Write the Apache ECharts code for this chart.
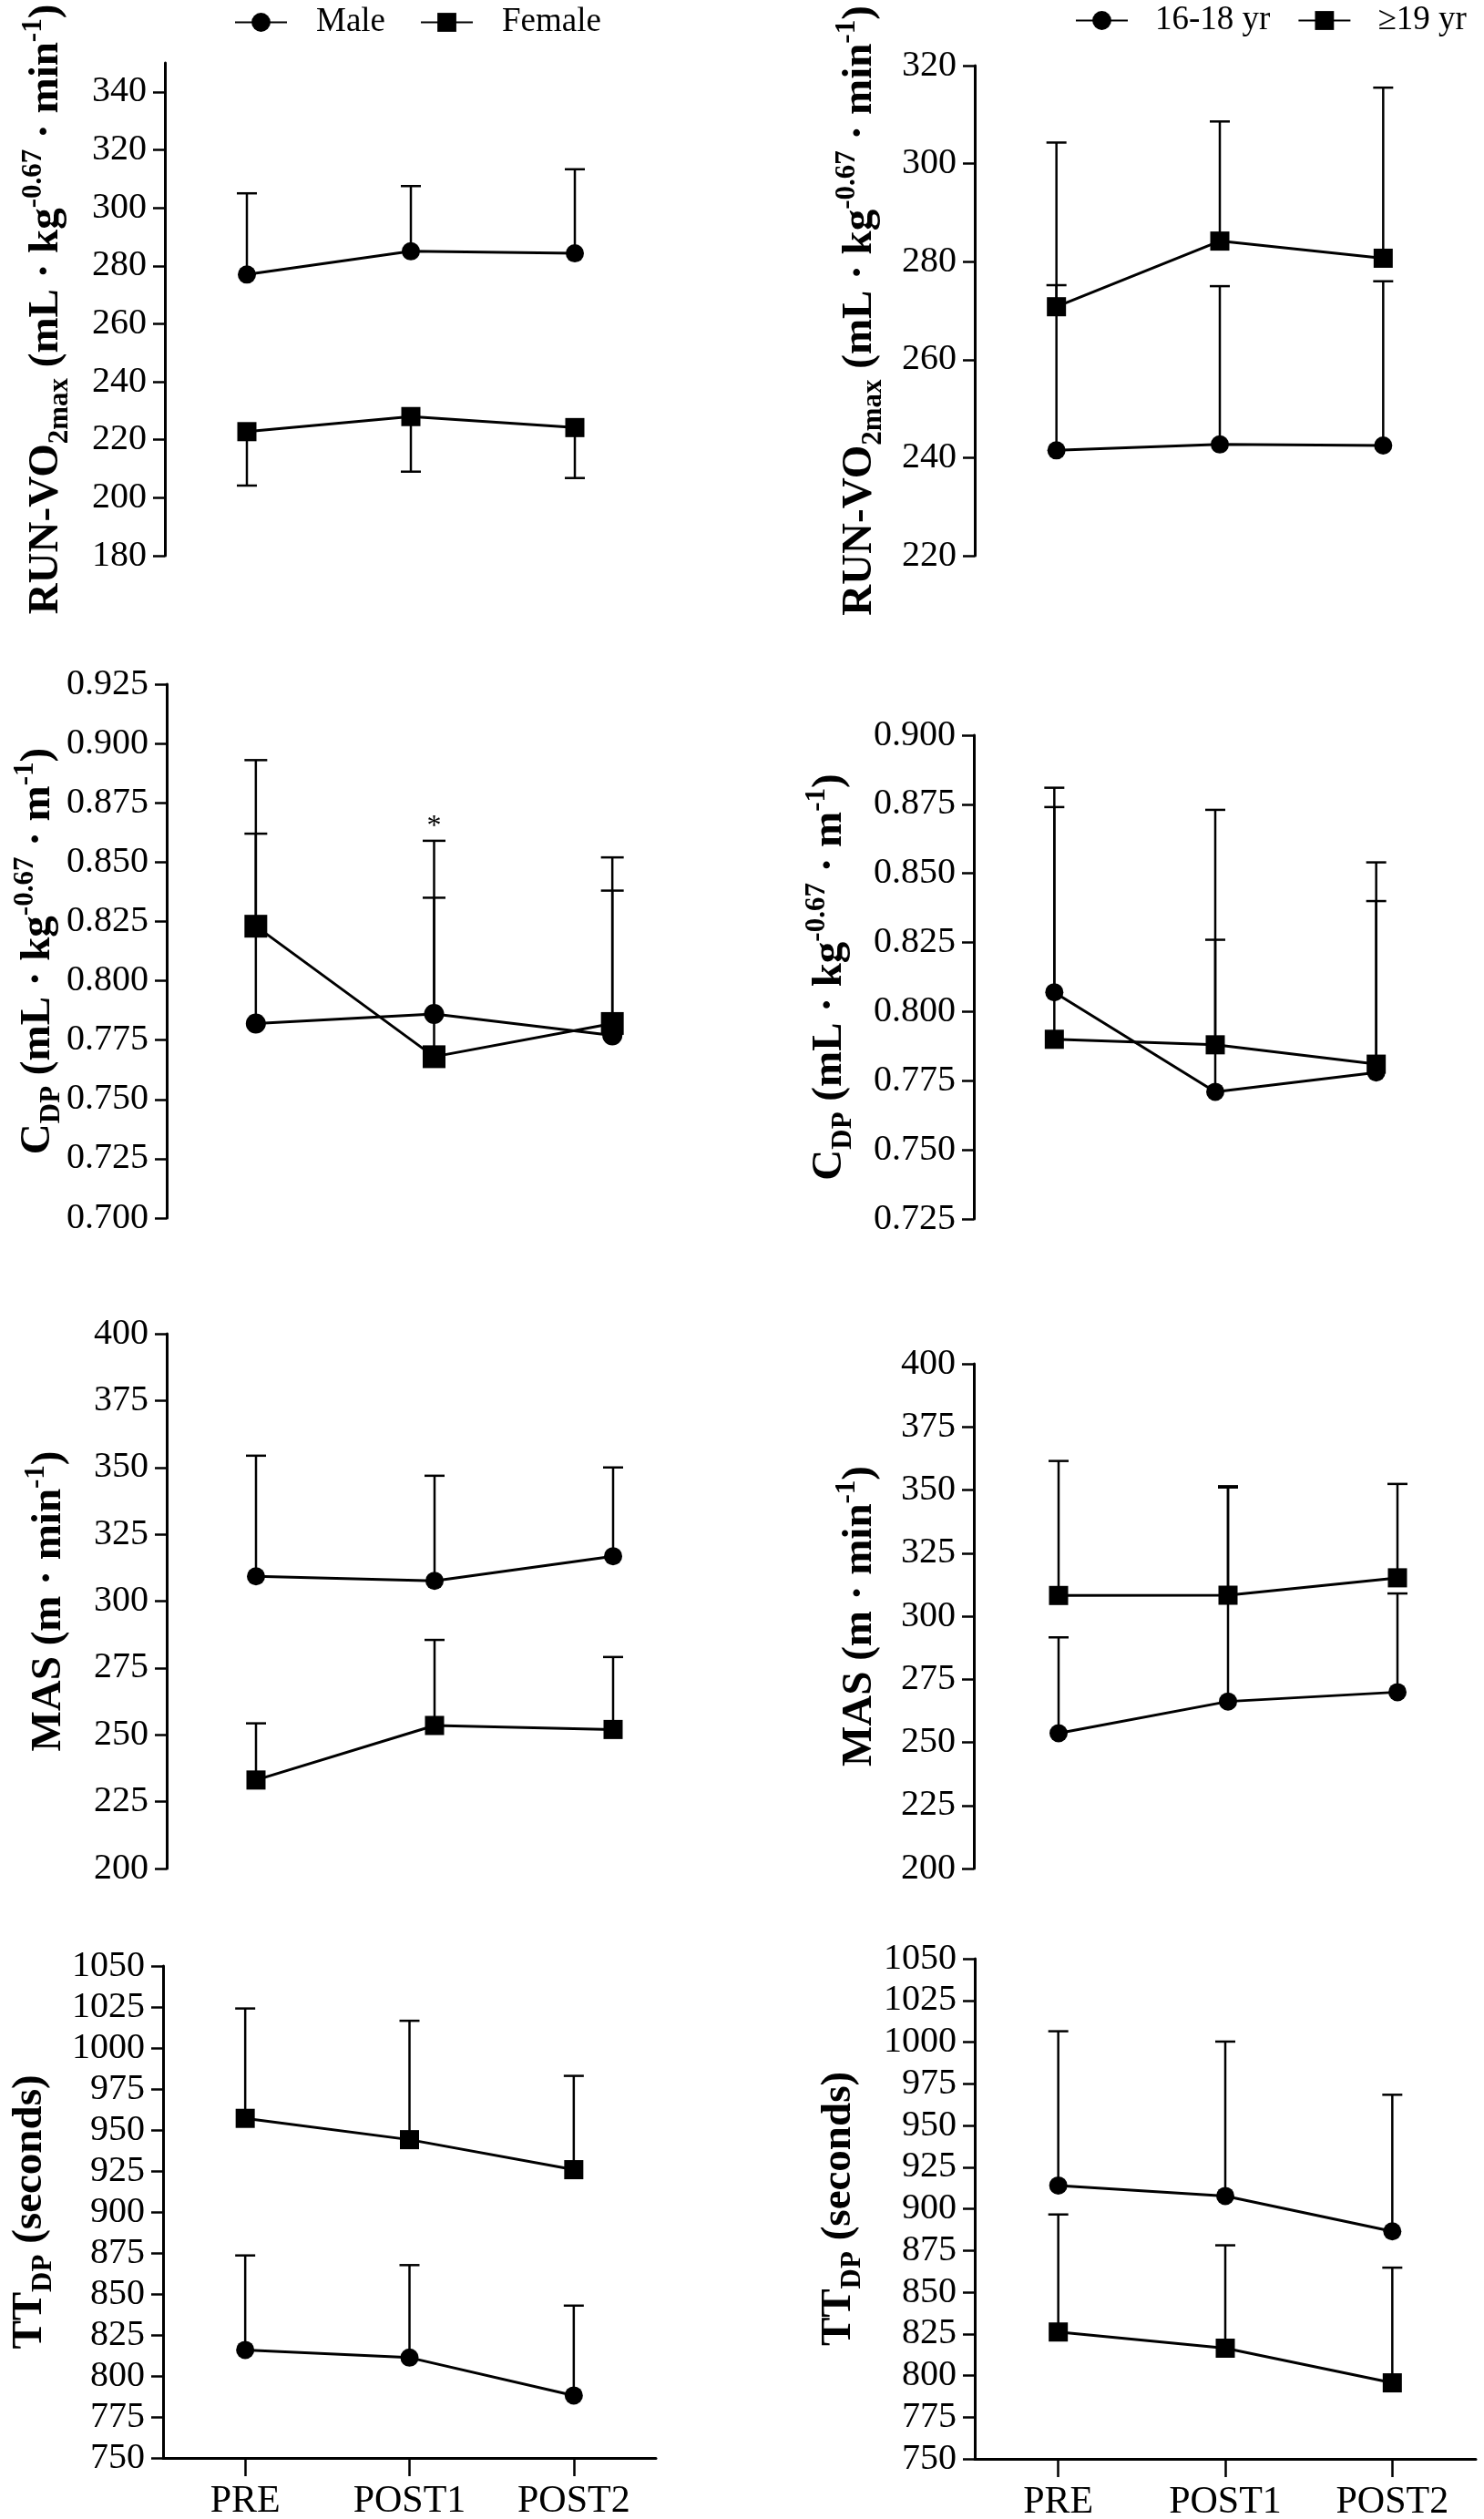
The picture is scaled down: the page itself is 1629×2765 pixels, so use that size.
<!DOCTYPE html>
<html>
<head>
<meta charset="utf-8">
<script src="https://cdn.jsdelivr.net/npm/echarts@6/dist/echarts.min.js"></script>
<style>
  html, body { margin: 0; padding: 0; background: #fff; }
  #chart { width: 1629px; height: 2765px; }
</style>
</head>
<body>
<div id="chart"></div>
<script>
// categories shared by every panel
const categories = ['PRE', 'POST1', 'POST2'];

// RUN-VO2max, by sex and by age
const vo2Male = [277.0, 285.0, 284.3];
const vo2MaleSd = [28.0, 22.5, 29.0];
const vo2Female = [222.8, 228.0, 224.2];
const vo2FemaleSd = [18.6, 19.0, 17.4];
const vo2Young = [241.5, 242.7, 242.5];
const vo2YoungSd = [33.7, 32.3, 33.5];
const vo2Old = [270.8, 284.2, 280.7];
const vo2OldSd = [33.5, 24.4, 34.8];

// C_DP
const cdpMale = [0.782, 0.786, 0.777];
const cdpMaleSd = [0.080, 0.049, 0.061];
const cdpFemale = [0.823, 0.768, 0.782];
const cdpFemaleSd = [0.070, 0.091, 0.070];
const cdpFemaleStar = [0, 1, 0];
const cdpYoung = [0.807, 0.771, 0.778];
const cdpYoungSd = [0.074, 0.102, 0.076];
const cdpOld = [0.790, 0.788, 0.781];
const cdpOldSd = [0.084, 0.038, 0.059];

// MAS
const masMale = [309.3, 307.6, 316.8];
const masMaleSd = [45.1, 39.3, 33.2];
const masFemale = [233.1, 253.5, 252.0];
const masFemaleSd = [21.2, 32.0, 27.1];
const masYoung = [253.6, 266.2, 269.9];
const masYoungSd = [38.0, 84.8, 39.1];
const masOld = [308.2, 308.3, 315.2];
const masOldSd = [53.3, 43.2, 37.2];

// TT_DP
const ttMale = [815.9, 811.2, 788.1];
const ttMaleSd = [57.6, 56.4, 54.8];
const ttFemale = [957.1, 944.1, 925.8];
const ttFemaleSd = [67.0, 72.5, 57.2];
const ttYoung = [914.0, 907.7, 886.5];
const ttYoungSd = [92.5, 92.6, 81.9];
const ttOld = [826.1, 816.4, 795.6];
const ttOldSd = [70.5, 61.7, 69.1];

// tick labels
const vo2TicksA = [180, 200, 220, 240, 260, 280, 300, 320, 340];
const vo2TicksB = [220, 240, 260, 280, 300, 320];
const cdpTicksA = [0.700, 0.725, 0.750, 0.775, 0.800, 0.825, 0.850, 0.875, 0.900, 0.925];
const cdpTicksB = [0.725, 0.750, 0.775, 0.800, 0.825, 0.850, 0.875, 0.900];
const masTicks = [200, 225, 250, 275, 300, 325, 350, 375, 400];
const ttTicks = [750, 775, 800, 825, 850, 875, 900, 925, 950, 975, 1000, 1025, 1050];

const SERIF = '"Liberation Serif", "Times New Roman", serif';
const TEXT = '#000';

// axis titles, rich text for sub/superscripts
const vo2Name = '{b|RUN-VO}{s|2max}{b| (mL · kg}{p|-0.67}{b| · min}{p|-1}{b|)}';
const cdpName = '{b|C}{s|DP}{b| (mL · kg}{p|-0.67}{b| · m}{p|-1}{b|)}';
const masName = '{b|MAS (m · min}{p|-1}{b|)}';
const ttName = '{b|TT}{s|DP}{b| (seconds)}';

const nameRich = {
  b: { fontFamily: SERIF, fontWeight: 'bold', fontSize: 47, lineHeight: 60, color: TEXT, verticalAlign: 'middle' },
  s: { fontFamily: SERIF, fontWeight: 'bold', fontSize: 31, lineHeight: 30, color: TEXT, verticalAlign: 'bottom' },
  p: { fontFamily: SERIF, fontWeight: 'bold', fontSize: 31, lineHeight: 30, color: TEXT, verticalAlign: 'top' }
};

// one entry per panel: grid box, y range, ticks, series
const panels = [
  { grid: [181, 69, 540, 541], min: 180, max: 350, ticks: vo2TicksA, digits: 0, name: vo2Name, gap: 100,
    a: vo2Male, aSd: vo2MaleSd, aDir: 1, b: vo2Female, bSd: vo2FemaleSd, bDir: -1, names: ['Male', 'Female'] },
  { grid: [1070, 72, 538, 538], min: 220, max: 320, ticks: vo2TicksB, digits: 0, name: vo2Name, gap: 96,
    a: vo2Young, aSd: vo2YoungSd, aDir: 1, b: vo2Old, bSd: vo2OldSd, bDir: 1, names: ['16-18 yr', '≥19 yr'] },
  { grid: [183, 751, 587, 586], min: 0.7, max: 0.925, ticks: cdpTicksA, digits: 3, name: cdpName, gap: 111,
    a: cdpMale, aSd: cdpMaleSd, aDir: 1, b: cdpFemale, bSd: cdpFemaleSd, bDir: 1, bStar: cdpFemaleStar,
    names: ['Male', 'Female'], dot: 22, box: 25, cap: 25 },
  { grid: [1069, 807, 530, 531], min: 0.725, max: 0.9, ticks: cdpTicksB, digits: 3, name: cdpName, gap: 128,
    a: cdpYoung, aSd: cdpYoungSd, aDir: 1, b: cdpOld, bSd: cdpOldSd, bDir: 1, names: ['16-18 yr', '≥19 yr'] },
  { grid: [183, 1464, 588, 587], min: 200, max: 400, ticks: masTicks, digits: 0, name: masName, gap: 99,
    a: masMale, aSd: masMaleSd, aDir: 1, b: masFemale, bSd: masFemaleSd, bDir: 1, names: ['Male', 'Female'] },
  { grid: [1069, 1497, 558, 554], min: 200, max: 400, ticks: masTicks, digits: 0, name: masName, gap: 95,
    a: masYoung, aSd: masYoungSd, aDir: 1, b: masOld, bSd: masOldSd, bDir: 1, names: ['16-18 yr', '≥19 yr'] },
  { grid: [179, 2158, 541, 540], min: 750, max: 1050, ticks: ttTicks, digits: 0, name: ttName, gap: 116, xAxis: true,
    a: ttMale, aSd: ttMaleSd, aDir: 1, b: ttFemale, bSd: ttFemaleSd, bDir: 1, names: ['Male', 'Female'] },
  { grid: [1070, 2150, 550, 549], min: 750, max: 1050, ticks: ttTicks, digits: 0, name: ttName, gap: 119, xAxis: true,
    a: ttYoung, aSd: ttYoungSd, aDir: 1, b: ttOld, bSd: ttOldSd, bDir: 1, names: ['16-18 yr', '≥19 yr'] }
];

function makeErrorBar(cap) {
  return function (params, api) {
    const i = api.value(0);
    const p0 = api.coord([i, api.value(1)]);
    const p1 = api.coord([i, api.value(2)]);
    const style = { stroke: '#000', lineWidth: 2.5 };
    const children = [
      { type: 'line', shape: { x1: p0[0], y1: p0[1], x2: p1[0], y2: p1[1] }, style },
      { type: 'line', shape: { x1: p1[0] - cap / 2, y1: p1[1], x2: p1[0] + cap / 2, y2: p1[1] }, style }
    ];
    if (api.value(3)) {
      children.push({
        type: 'text', x: p1[0], y: p1[1] - 15,
        style: { text: '*', fontFamily: SERIF, fontSize: 32, fill: '#000', align: 'center', verticalAlign: 'middle' }
      });
    }
    return { type: 'group', children };
  };
}

function barData(mean, sd, dir, star) {
  return mean.map((m, i) => [i, m, m + dir * sd[i], star ? star[i] : 0]);
}

const grid = [], xAxis = [], yAxis = [], series = [];

panels.forEach((p, k) => {
  grid.push({ left: p.grid[0], top: p.grid[1], width: p.grid[2], height: p.grid[3], outerBoundsMode: 'none' });

  xAxis.push({
    type: 'category', gridIndex: k, data: categories, boundaryGap: true,
    show: !!p.xAxis,
    axisLine: { show: true, onZero: false, lineStyle: { color: '#000', width: 3 } },
    axisTick: { show: true, alignWithLabel: true, length: 20, lineStyle: { color: '#000', width: 2.5 } },
    axisLabel: { show: true, margin: 27, color: TEXT, fontFamily: SERIF, fontSize: 42 },
    splitLine: { show: false }
  });

  yAxis.push({
    type: 'value', gridIndex: k, min: p.min, max: p.max,
    name: p.name, nameLocation: 'middle', nameRotate: 90, nameGap: p.gap, nameMoveOverlap: false,
    nameTextStyle: { rich: nameRich },
    axisLine: { show: true, onZero: false, lineStyle: { color: '#000', width: 3 } },
    axisTick: { show: true, length: 13, customValues: p.ticks, lineStyle: { color: '#000', width: 2.5 } },
    axisLabel: {
      show: true, margin: 20, customValues: p.ticks, color: TEXT, fontFamily: SERIF, fontSize: 40,
      formatter: v => Number(v).toFixed(p.digits)
    },
    splitLine: { show: false }
  });

  const lineOpts = (name, data, symbol, size) => ({
    name, type: 'line', xAxisIndex: k, yAxisIndex: k, data,
    symbol, symbolSize: size, z: 4, animation: false,
    itemStyle: { color: '#000', opacity: 1 },
    lineStyle: { color: '#000', width: 3 },
    emphasis: { disabled: true }
  });

  series.push({
    type: 'custom', xAxisIndex: k, yAxisIndex: k, z: 2, animation: false, silent: true,
    renderItem: makeErrorBar(p.cap || 22),
    encode: { x: 0, y: [1, 2] },
    data: barData(p.a, p.aSd, p.aDir).concat(barData(p.b, p.bSd, p.bDir, p.bStar))
  });
  series.push(lineOpts(p.names[0], p.a, 'circle', p.dot || 20));
  series.push(lineOpts(p.names[1], p.b, 'rect', p.box || 21));
});

const legendText = { color: TEXT, fontFamily: SERIF, fontSize: 37, padding: [0, 0, 0, 27] };

const chart = echarts.init(document.getElementById('chart'), null, { renderer: 'canvas' });
chart.setOption({
  backgroundColor: '#fff',
  animation: false,
  legend: [
    { data: ['Male', 'Female'], left: 257, top: 6, padding: 0, itemWidth: 57, itemHeight: 26, itemGap: 38,
      selectedMode: false, textStyle: legendText },
    { data: ['16-18 yr', '≥19 yr'], left: 1180, top: 4, padding: 0, itemWidth: 57, itemHeight: 26, itemGap: 30,
      selectedMode: false, textStyle: Object.assign({}, legendText, { padding: [0, 0, 0, 25] }) }
  ],
  grid, xAxis, yAxis, series
});

window.addEventListener('resize', () => chart.resize());
</script>
</body>
</html>
